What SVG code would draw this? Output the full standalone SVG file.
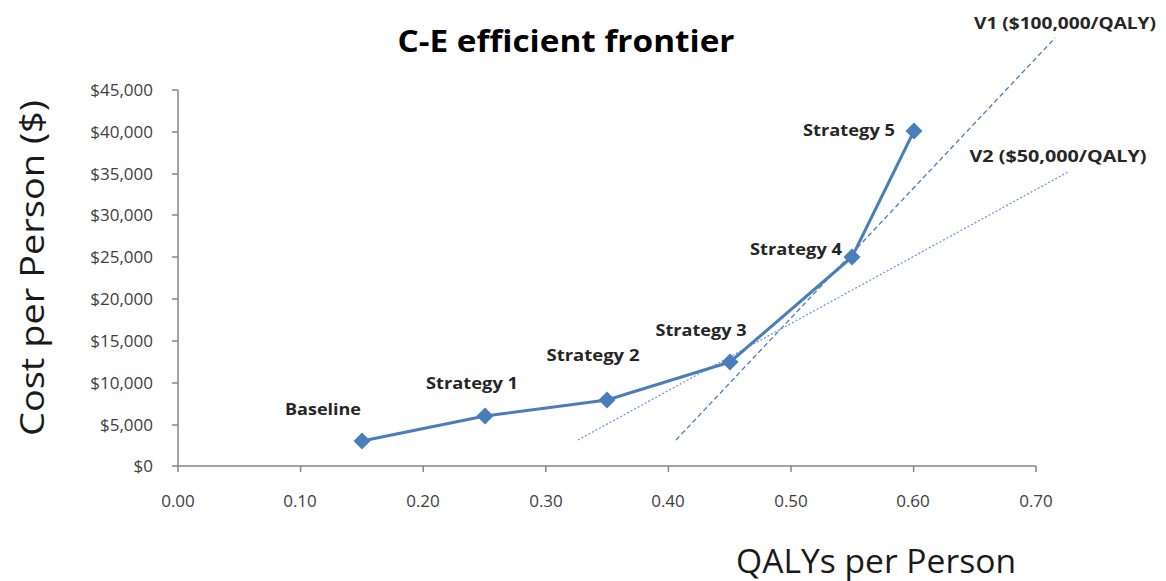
<svg xmlns="http://www.w3.org/2000/svg" width="1166" height="581" viewBox="0 0 1166 581">
<style>
.tick{font-family:"Open Sans","Liberation Sans",sans-serif;font-size:17px;fill:#404040}
.lbl{font-family:"Open Sans","Liberation Sans",sans-serif;font-size:16.5px;font-weight:bold;fill:#262626}
.axis{stroke:#868686;stroke-width:1.5;fill:none}
.title{font-family:"Open Sans","Liberation Sans",sans-serif;font-size:31px;font-weight:bold;fill:#000}
.atitle{font-family:"Open Sans","Liberation Sans",sans-serif;font-size:33px;fill:#1a1a1a}
.mk{fill:#4a7ebb}
</style>
<defs>
<path id="dia" d="M0,-8.5 L8.5,0 L0,8.5 L-8.5,0 Z"/>
</defs>
<rect width="1166" height="581" fill="#fff"/>
<text class="title" x="566" y="52" text-anchor="middle" textLength="337" lengthAdjust="spacingAndGlyphs">C-E efficient frontier</text>
<g id="axes">
<path class="axis" d="M178,90 V466 H1036"/>
<path class="axis" d="M172,90 H178 M172,132 H178 M172,174 H178 M172,215 H178 M172,257 H178 M172,299 H178 M172,341 H178 M172,383 H178 M172,425 H178 M172,466 H178"/>
<path class="axis" d="M178,466 V472 M300.6,466 V472 M423.2,466 V472 M545.8,466 V472 M668.4,466 V472 M791,466 V472 M913.6,466 V472 M1036,466 V472"/>
<g class="tick" text-anchor="end">
<text x="153" y="96">$45,000</text>
<text x="153" y="138">$40,000</text>
<text x="153" y="180">$35,000</text>
<text x="153" y="221">$30,000</text>
<text x="153" y="263">$25,000</text>
<text x="153" y="305">$20,000</text>
<text x="153" y="347">$15,000</text>
<text x="153" y="389">$10,000</text>
<text x="153" y="431">$5,000</text>
<text x="153" y="472">$0</text>
</g>
<g class="tick" text-anchor="middle">
<text x="178" y="507">0.00</text>
<text x="300" y="507">0.10</text>
<text x="423" y="507">0.20</text>
<text x="546" y="507">0.30</text>
<text x="668" y="507">0.40</text>
<text x="791" y="507">0.50</text>
<text x="913" y="507">0.60</text>
<text x="1036" y="507">0.70</text>
</g>
<text class="atitle" transform="translate(44,268) rotate(-90)" text-anchor="middle" textLength="336" lengthAdjust="spacingAndGlyphs">Cost per Person ($)</text>
<text class="atitle" x="876" y="573" text-anchor="middle" textLength="280" lengthAdjust="spacingAndGlyphs">QALYs per Person</text>
</g>
<g id="connectors">
<line x1="676" y1="440" x2="1055" y2="38" stroke="#4a7ebb" stroke-width="1.3" stroke-dasharray="5,3"/>
<line x1="578" y1="440" x2="1068" y2="172" stroke="#6f9bd0" stroke-width="1.3" stroke-dasharray="2,2"/>
<polyline points="362,441 485,416 607,400 730,362 852,257 914,131" fill="none" stroke="#4a7ebb" stroke-width="3" stroke-linejoin="round"/>
</g>
<g id="baseline"><use href="#dia" class="mk" x="362" y="441"/><text class="lbl" x="323" y="415" text-anchor="middle" textLength="76" lengthAdjust="spacingAndGlyphs">Baseline</text></g>
<g id="strategy1"><use href="#dia" class="mk" x="485" y="416"/><text class="lbl" x="472" y="389" text-anchor="middle" textLength="92" lengthAdjust="spacingAndGlyphs">Strategy 1</text></g>
<g id="strategy2"><use href="#dia" class="mk" x="607" y="400"/><text class="lbl" x="593" y="361" text-anchor="middle" textLength="93" lengthAdjust="spacingAndGlyphs">Strategy 2</text></g>
<g id="strategy3"><use href="#dia" class="mk" x="730" y="362"/><text class="lbl" x="701" y="336" text-anchor="middle" textLength="91" lengthAdjust="spacingAndGlyphs">Strategy 3</text></g>
<g id="strategy4"><use href="#dia" class="mk" x="852" y="257"/><text class="lbl" x="796" y="255" text-anchor="middle" textLength="92" lengthAdjust="spacingAndGlyphs">Strategy 4</text></g>
<g id="strategy5"><use href="#dia" class="mk" x="914" y="131"/><text class="lbl" x="849" y="136" text-anchor="middle" textLength="92" lengthAdjust="spacingAndGlyphs">Strategy 5</text></g>
<g id="v1"><text class="lbl" x="1065" y="29" text-anchor="middle" textLength="182" lengthAdjust="spacingAndGlyphs">V1 ($100,000/QALY)</text></g>
<g id="v2"><text class="lbl" x="1058" y="162" text-anchor="middle" textLength="177" lengthAdjust="spacingAndGlyphs">V2 ($50,000/QALY)</text></g>
</svg>
